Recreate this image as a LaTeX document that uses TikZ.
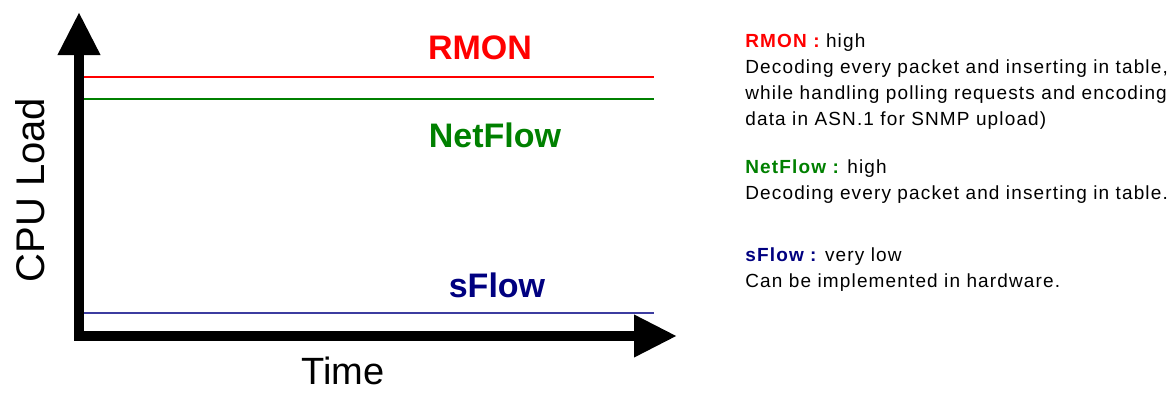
\documentclass[tikz,border=0pt]{standalone}
\usepackage{fontspec}
\setmainfont{Liberation Sans}
\usetikzlibrary{arrows.meta}
\definecolor{rmonred}{RGB}{255,0,0}
\definecolor{nfgreen}{RGB}{0,128,0}
\definecolor{sfblue}{RGB}{0,0,128}
\definecolor{sfline}{RGB}{60,60,160}
\tikzset{
  axis/.style={line width=5pt,line join=miter,-{Triangle[length=21.5pt,width=20pt]}},
  level/.style={line width=0.75pt},
  biglabel/.style={font=\fontsize{17}{20}\selectfont\bfseries},
  desc/.style={anchor=base west,align=left,inner sep=0pt,
    font=\fontsize{9.5}{13}\selectfont\addfontfeature{LetterSpace=6}}
}
\begin{document}
\begin{tikzpicture}[x=0.5pt,y=-0.5pt]
        \useasboundingbox (0,0) rectangle (1174,392);
        % axes
        \coordinate (origin) at (79,336);
        \coordinate (ytop) at (79,12);
        \coordinate (xend) at (677,336);
        \draw[axis] (origin) -- (ytop);
        \draw[axis] ([xshift=-2.5pt]origin) -- (xend);
        \node[rotate=90,font=\fontsize{20}{24}\selectfont] (cpu) at (30,190) {CPU Load};
        \node[anchor=base,inner sep=0pt,font=\fontsize{19}{22}\selectfont] (time) at (343,384) {Time};
        % load levels
        \draw[level,rmonred] (84,77) -- (654,77);
        \draw[level,nfgreen] (84,99) -- (654,99);
        \draw[level,sfline] (84,313) -- (654,313);
        \node[biglabel,rmonred] (rmon) at (480,48) {RMON};
        \node[biglabel,nfgreen] (netflow) at (495,135) {NetFlow};
        \node[biglabel,sfblue] (sflow) at (497,285) {sFlow};
        % description (base = last line)
        \node[desc] (rmondesc) at (745,125) {\textcolor{rmonred}{\bfseries RMON :} high\\
          Decoding every packet and inserting in table,\\
          while handling polling requests and encoding\\
          data in ASN.1 for SNMP upload)};
        \node[desc] (nfdesc) at (745,199) {\textcolor{nfgreen}{\bfseries NetFlow :} high\\
          Decoding every packet and inserting in table.};
        \node[desc] (sfdesc) at (745,287) {\textcolor{sfblue}{\bfseries sFlow :} very low\\
          Can be implemented in hardware.};
    \end{tikzpicture}
\end{document}
